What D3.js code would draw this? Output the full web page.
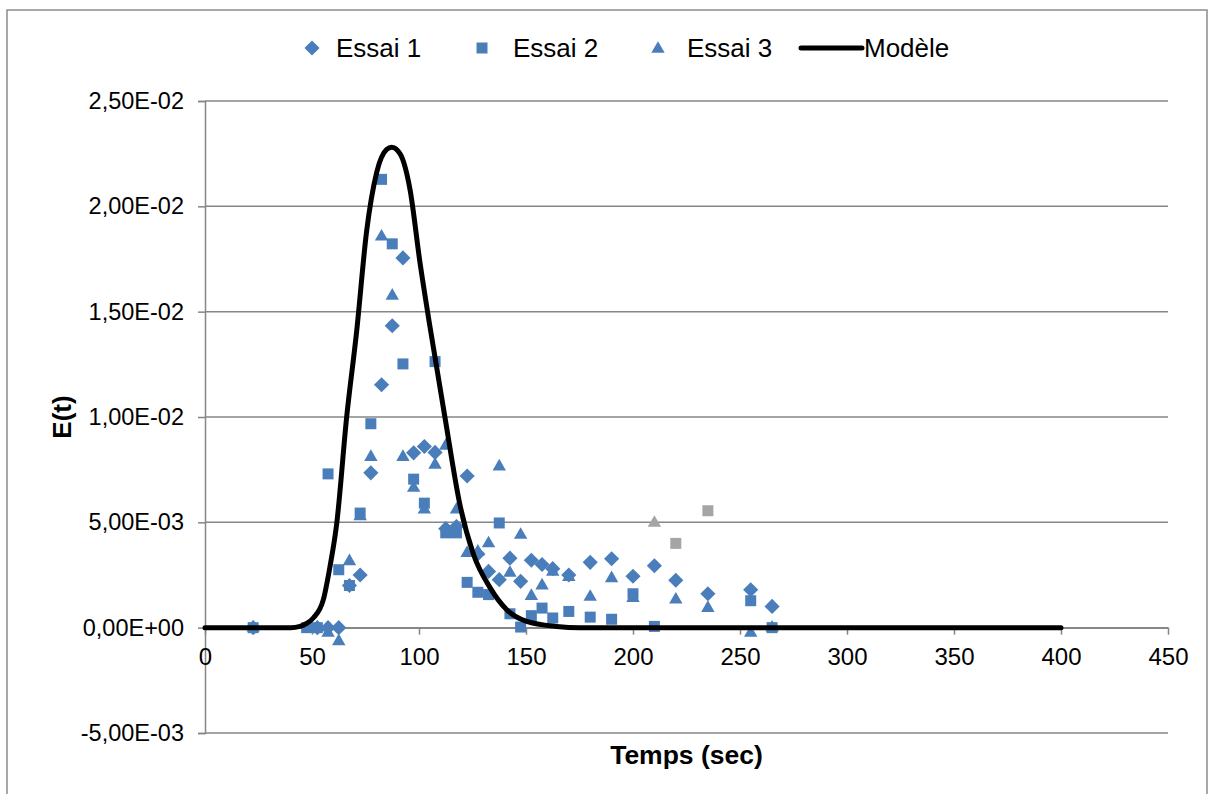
<!DOCTYPE html>
<html><head><meta charset="utf-8">
<script src="https://cdn.jsdelivr.net/npm/d3@7"></script>
<style>
body{margin:0;background:#fff;}
text{font-family:"Liberation Sans",Arial,sans-serif;}
</style></head>
<body><svg id="c" width="1212" height="794"></svg>
<script>
// ---------- data ----------
const essai1T = [22.5,52.5,57.5,62.5,67.5,72.5,77.5,82.5,87.5,92.5,97.5,102.5,107.5,112.5,117.5,122.5,127.5,132.5,137.5,142.5,147.5,152.5,157.5,162.5,170,180,190,200,210,220,235,255,265];
const essai1V = [0,0,0,0,0.0020,0.0025,0.00735,0.01153,0.01433,0.01755,0.0083,0.0086,0.00832,0.0047,0.0048,0.0072,0.0035,0.00267,0.00228,0.0033,0.0022,0.0032,0.0030,0.0028,0.0025,0.0031,0.00327,0.00244,0.00294,0.00225,0.00161,0.0018,0.00101];

const essai2T = [22.5,47.5,52.5,57.5,62.5,67.5,72.5,77.5,82.5,87.5,92.5,97.5,102.5,107.5,112.5,117.5,122.5,127.5,132.5,137.5,142.5,147.5,152.5,157.5,162.5,170,180,190,200,210,255,265];
const essai2V = [0,0,0,0.0073,0.00275,0.0020,0.00544,0.00968,0.02128,0.01822,0.01252,0.00705,0.00591,0.01263,0.0045,0.0045,0.00215,0.00168,0.00157,0.00497,0.00066,0.00003,0.00057,0.00093,0.00046,0.00077,0.0005,0.0004,0.00161,0.00006,0.00128,0];

const essai3T = [22.5,52.5,57.5,62.5,67.5,72.5,77.5,82.5,87.5,92.5,97.5,102.5,107.5,112.5,117.5,122.5,127.5,132.5,137.5,142.5,147.5,152.5,157.5,162.5,170,180,190,200,220,235,255,265];
const essai3V = [0,0,-0.00025,-0.00065,0.00315,0.00528,0.0081,0.01856,0.01575,0.0081,0.00663,0.0056,0.00773,0.00863,0.0056,0.00354,0.0036,0.0040,0.00765,0.0026,0.0044,0.0015,0.0020,0.00265,0.0024,0.00146,0.00234,0.0014,0.00133,0.00093,-0.00025,0];

// points shown in grey (excluded)
const grey2T = [220,235];
const grey2V = [0.0040,0.00555];
const grey3T = [210];
const grey3V = [0.00497];

const modelT = [0,20,40,44.4,47.5,50.6,55.3,58.4,61.5,66.2,70.9,75.5,80.2,84.9,87.2,91.1,95.8,100.5,105.1,112.1,119.2,125.4,133.2,141,150.3,164.3,175,200,300,400];
const modelV = [0,0,0,0.00006,0.0002,0.00046,0.00133,0.0029,0.0049,0.0100,0.0141,0.0188,0.0216,0.0227,0.0228,0.0225,0.0208,0.0173,0.0143,0.0100,0.0058,0.0035,0.0019,0.00085,0.0003,0.00006,0,0,0,0];

const xTicks = [0,50,100,150,200,250,300,350,400,450];
const yTicks = [-0.005,0,0.005,0.010,0.015,0.020,0.025];
const yTickLabels = ["-5,00E-03","0,00E+00","5,00E-03","1,00E-02","1,50E-02","2,00E-02","2,50E-02"];
const seriesNames = ["Essai 1","Essai 2","Essai 3","Modèle"];

// ---------- layout ----------
const svg = d3.select("#c");
const L=205,R=1168,T=101,B=733;
const x = d3.scaleLinear().domain([0,450]).range([L,R]);
const y = d3.scaleLinear().domain([-0.005,0.025]).range([B,T]);
const blue="#4A7EBB", grey="#A5A5A5", axisCol="#868686";
const FF="Liberation Sans, Arial, sans-serif";

// chart frame
svg.append("rect").attr("x",7).attr("y",10).attr("width",1200).attr("height",800)
  .attr("fill","none").attr("stroke","#8c8c8c").attr("stroke-width",1.5);

// gridlines
svg.append("g").selectAll("line").data(yTicks).join("line")
  .attr("x1",L).attr("x2",R).attr("y1",d=>y(d)).attr("y2",d=>y(d))
  .attr("stroke",axisCol).attr("stroke-width",1.5);

// y axis
const yAxis = d3.axisLeft(y).tickValues(yTicks).tickSize(7).tickPadding(14)
  .tickFormat((d,i)=>yTickLabels[i]);
const gy = svg.append("g").attr("transform",`translate(${L},0)`).call(yAxis);
gy.select(".domain").attr("stroke",axisCol).attr("stroke-width",1.5);
gy.selectAll(".tick line").attr("stroke",axisCol).attr("stroke-width",1.5);
gy.selectAll("text").attr("font-size",23.5).attr("fill","#000").attr("font-family",FF);

// x axis at y=0
const xAxis = d3.axisBottom(x).tickValues(xTicks).tickSize(7).tickPadding(13).tickSizeOuter(0);
const gx = svg.append("g").attr("transform",`translate(0,${y(0)})`).call(xAxis);
gx.select(".domain").attr("stroke",axisCol).attr("stroke-width",1.5);
gx.selectAll(".tick line").attr("stroke",axisCol).attr("stroke-width",1.5);
gx.selectAll("text").attr("font-size",24).attr("fill","#000").attr("font-family",FF);

// axis titles
svg.append("text").attr("x",(L+R)/2).attr("y",764).attr("text-anchor","middle")
  .attr("font-size",26.5).attr("font-weight","bold").text("Temps (sec)");
svg.append("text").attr("transform",`translate(71,${(T+B)/2}) rotate(-90)`)
  .attr("text-anchor","middle").attr("font-size",26).attr("font-weight","bold").text("E(t)");

// markers
const diamond = d3.symbol().type(d3.symbolSquare).size(115);
const square = d3.symbol().type(d3.symbolSquare).size(121);
const tri = d3.symbol().type(d3.symbolTriangle).size(78);

function pts(T_,V_){return T_.map((t,i)=>({t,v:V_[i]}));}
function drawMarkers(data, sym, col, rot){
  svg.append("g").selectAll("path").data(data).join("path")
    .attr("d",sym)
    .attr("transform",d=>`translate(${x(d.t)},${y(d.v)})${rot?" rotate(45)":""}`)
    .attr("fill",col);
}
drawMarkers(pts(essai1T,essai1V), diamond, blue, true);
drawMarkers(pts(essai2T,essai2V), square, blue, false);
drawMarkers(pts(essai3T,essai3V), tri, blue, false);
drawMarkers(pts(grey2T,grey2V), square, grey, false);
drawMarkers(pts(grey3T,grey3V), tri, grey, false);

// model line
const line = d3.line().x(d=>x(d.t)).y(d=>y(d.v)).curve(d3.curveMonotoneX);
svg.append("path").datum(pts(modelT,modelV)).attr("d",line)
  .attr("fill","none").attr("stroke","#000").attr("stroke-width",5)
  .attr("stroke-linejoin","round").attr("stroke-linecap","round");

// legend
const lg = svg.append("g");
const ly = 48;
const legendItems = [
  {name:seriesNames[0], kind:"d", mx:312, tx:336},
  {name:seriesNames[1], kind:"s", mx:482, tx:513},
  {name:seriesNames[2], kind:"t", mx:658, tx:687},
  {name:seriesNames[3], kind:"l", mx:831, tx:864}
];
legendItems.forEach(it=>{
  if(it.kind==="d") lg.append("path").attr("d",diamond).attr("fill",blue).attr("transform",`translate(${it.mx},${ly}) rotate(45)`);
  if(it.kind==="s") lg.append("path").attr("d",square).attr("fill",blue).attr("transform",`translate(${it.mx},${ly})`);
  if(it.kind==="t") lg.append("path").attr("d",tri).attr("fill",blue).attr("transform",`translate(${it.mx},${ly+1})`);
  if(it.kind==="l") lg.append("line").attr("x1",801).attr("x2",862).attr("y1",ly).attr("y2",ly).attr("stroke","#000").attr("stroke-width",5).attr("stroke-linecap","round");
  lg.append("text").attr("x",it.tx).attr("y",ly).attr("dy","0.35em").attr("font-size",26).text(it.name);
});
</script></body></html>
